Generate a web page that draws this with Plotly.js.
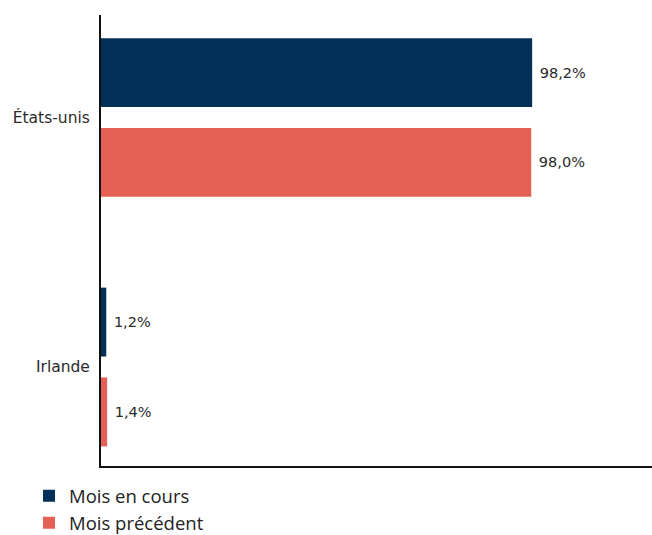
<!DOCTYPE html>
<html>
<head>
<meta charset="utf-8">
<script src="https://cdn.plot.ly/plotly-3.0.1.min.js"></script>
<style>html,body{margin:0;padding:0;background:#fff;}#chart{width:652px;height:535px;}</style>
</head>
<body>
<div id="chart"></div>
<script>
const categories = ['États-unis', 'Irlande'];
const seriesNames = ['Mois en cours', 'Mois précédent'];
const moisEnCours = [98.2, 1.2];
const moisPrecedent = [98.0, 1.4];
const colors = ['#003057', '#E66155'];

const labelFont = {family: '"DejaVu Sans", sans-serif', size: 14.5, color: '#2a2a2a'};
const tickFont = {family: '"DejaVu Sans", sans-serif', size: 15.5, color: '#2a2a2a'};

const traces = [moisEnCours, moisPrecedent].map((vals, i) => ({
  type: 'bar',
  orientation: 'h',
  name: seriesNames[i],
  y: categories,
  x: vals,
  marker: {color: colors[i]},
  texttemplate: '\u00a0%{x:.1f}%',
  textposition: 'outside',
  cliponaxis: false,
  textfont: labelFont,
  hoverinfo: 'skip'
}));

const layout = {
  width: 652,
  height: 535,
  margin: {l: 101, r: 0, t: 15, b: 69},
  paper_bgcolor: '#fff',
  plot_bgcolor: '#fff',
  separators: ', ',
  barmode: 'group',
  bargap: 0.28,
  bargroupgap: 0.233,
  showlegend: true,
  legend: {
    orientation: 'h',
    entrywidthmode: 'fraction',
    entrywidth: 0.6,
    xref: 'container', yref: 'container',
    x: 0.0445, xanchor: 'left',
    y: 0.108, yanchor: 'top',
    font: {family: '"Open Sans", "Noto Sans", sans-serif', size: 18.5, color: '#222'}
  },
  xaxis: {
    range: [0, 125.5],
    showgrid: false,
    zeroline: false,
    showticklabels: false,
    ticks: '',
    showline: true,
    linecolor: '#111',
    linewidth: 2
  },
  yaxis: {
    type: 'category',
    categoryorder: 'array',
    categoryarray: categories,
    range: [1.397, -0.411],
    showgrid: false,
    zeroline: false,
    ticks: '',
    showline: true,
    linecolor: '#111',
    linewidth: 2,
    tickfont: tickFont,
    ticklabelstandoff: 6
  }
};

Plotly.newPlot('chart', traces, layout, {displayModeBar: false, staticPlot: true});
</script>
</body>
</html>
